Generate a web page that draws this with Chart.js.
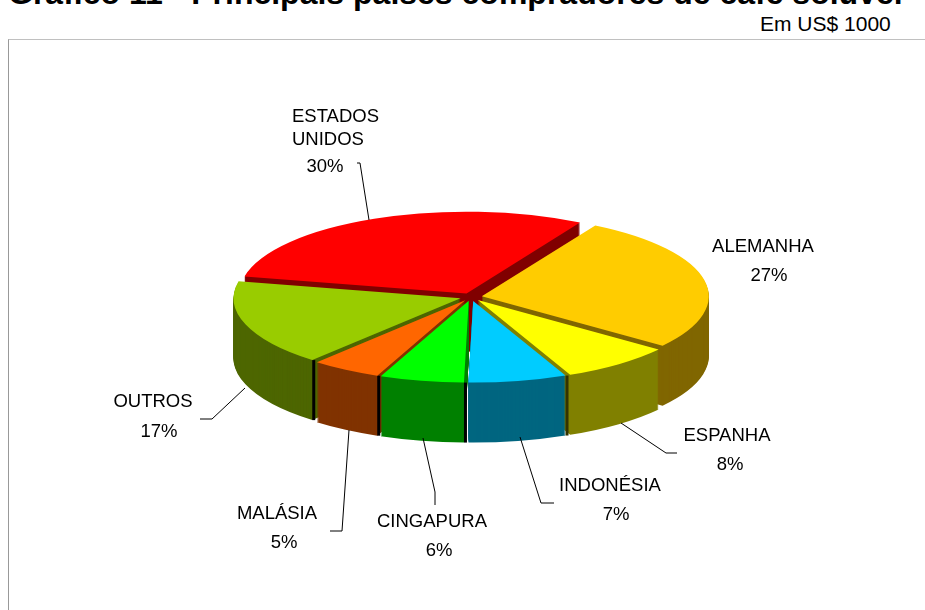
<!DOCTYPE html>
<html lang="pt">
<head>
<meta charset="utf-8">
<title>Gráfico 11</title>
<style>
  html, body { margin: 0; height: 100%; background: #fff; overflow: hidden; }
  #titulo { position: absolute; left: 8px; top: -24px; margin: 0; white-space: nowrap; font: bold 32px/34px "Liberation Sans", Arial, sans-serif; color: #000; }
  #unidade { position: absolute; left: 760px; top: 11px; white-space: nowrap; font: 21px/26px "Liberation Sans", Arial, sans-serif; color: #000; }
  #moldura { position: absolute; left: 8px; top: 39px; right: -2px; bottom: -2px; border: 1px solid #c0c0c0; border-left-color: #999; }
  #grafico { position: absolute; left: 0; top: 0; }
</style>
</head>
<body>
<h1 id="titulo">Gráfico 11 - Principais países compradores de café solúvel</h1>
<div id="unidade">Em US$ 1000</div>
<div id="moldura"></div>
<canvas id="grafico" width="925" height="610"></canvas>
<script src="https://cdn.jsdelivr.net/npm/chart.js@4/dist/chart.umd.min.js"></script>
<script>
const paises = ["ESTADOS UNIDOS", "ALEMANHA", "ESPANHA", "INDONÉSIA", "CINGAPURA", "MALÁSIA", "OUTROS"];
const valores = [30, 27, 8, 7, 6, 5, 17];
const coresTopo = ["#ff0000", "#ffcc00", "#ffff00", "#00ccff", "#00ff00", "#ff6600", "#99cc00"];
const coresLado = ["#800000", "#806600", "#808000", "#006680", "#008000", "#803300", "#4d6600"];
const costuras = [null, null, null, "#333300", "#000000", "#000000", "#000000"];

// posicao dos rotulos: linhas de nome, linha do percentual
const rotulos = [
  { linhas: [["ESTADOS", 292, 122, "left"], ["UNIDOS", 292, 145, "left"]], pct: [325, 172] },
  { linhas: [["ALEMANHA", 763, 252, "center"]], pct: [769, 281] },
  { linhas: [["ESPANHA", 727, 441, "center"]], pct: [730, 470] },
  { linhas: [["INDONÉSIA", 610, 491, "center"]], pct: [616, 520] },
  { linhas: [["CINGAPURA", 432, 527, "center"]], pct: [439, 556] },
  { linhas: [["MALÁSIA", 277, 519, "center"]], pct: [284, 548] },
  { linhas: [["OUTROS", 153, 407, "center"]], pct: [159, 437] }
];
const guias = [
  [[357, 163], [360, 163], [369, 220]],
  null,
  [[677, 453], [666, 453], [621, 423]],
  [[554, 503], [541, 503], [520, 437]],
  [[435, 505], [435, 492], [423, 438]],
  [[330, 531], [342, 531], [349, 430]],
  [[200, 419], [212, 419], [245, 388]]
];

const achatar = 0.36;
const altura = 60;
const explosao = 11;

function desenhaFatia(ctx, arco, cor, dy) {
  const mid = (arco.startAngle + arco.endAngle) / 2;
  const orig = arco.options;
  arco.options = Object.assign({}, orig, { backgroundColor: cor, borderColor: cor, borderWidth: 0 });
  ctx.save();
  ctx.translate(arco.x + Math.cos(mid) * explosao, arco.y + Math.sin(mid) * explosao * achatar + dy);
  ctx.scale(1, achatar);
  ctx.translate(-arco.x, -arco.y);
  arco.draw(ctx);
  ctx.restore();
  arco.options = orig;
}

const pizza3d = {
  id: "pizza3d",
  beforeDatasetDraw(chart) {
    const ctx = chart.ctx;
    const arcos = chart.getDatasetMeta(0).data;
    const ordem = arcos.map((a, i) => i).sort((a, b) => {
      const y = i => Math.sin((arcos[i].startAngle + arcos[i].endAngle) / 2);
      return y(a) - y(b);
    });
    ordem.forEach(i => {
      const arco = arcos[i];
      for (let d = altura; d > 0; d--) desenhaFatia(ctx, arco, coresLado[i], d);
      if (costuras[i]) {
        const mid = (arco.startAngle + arco.endAngle) / 2;
        const x = arco.x + Math.cos(mid) * explosao + Math.cos(arco.startAngle) * arco.outerRadius;
        const y = arco.y + (Math.sin(mid) * explosao + Math.sin(arco.startAngle) * arco.outerRadius) * achatar;
        ctx.fillStyle = costuras[i];
        ctx.fillRect(x, y, 3, altura);
      }
      desenhaFatia(ctx, arco, coresTopo[i], 0);
    });
    return false;
  },
  afterDraw(chart) {
    const ctx = chart.ctx;
    ctx.save();
    ctx.strokeStyle = "#000";
    ctx.lineWidth = 1;
    guias.forEach(g => {
      if (!g) return;
      ctx.beginPath();
      g.forEach((p, i) => i ? ctx.lineTo(p[0], p[1]) : ctx.moveTo(p[0], p[1]));
      ctx.stroke();
    });
    ctx.fillStyle = "#000";
    ctx.font = '18.5px "Liberation Sans", Arial, sans-serif';
    rotulos.forEach((r, i) => {
      r.linhas.forEach(l => {
        ctx.textAlign = l[3];
        ctx.fillText(l[0], l[1], l[2]);
      });
      ctx.textAlign = "center";
      ctx.fillText(valores[i] + "%", r.pct[0], r.pct[1]);
    });
    ctx.restore();
  }
};

new Chart(document.getElementById("grafico"), {
  type: "pie",
  data: {
    labels: paises,
    datasets: [{
      data: valores,
      backgroundColor: coresTopo,
      borderWidth: 0,
      radius: 227
    }]
  },
  options: {
    responsive: false,
    animation: false,
    rotation: -78,
    layout: { padding: { left: 17, bottom: 16 } },
    plugins: { legend: { display: false }, tooltip: { enabled: false } }
  },
  plugins: [pizza3d]
});
</script>
</body>
</html>
